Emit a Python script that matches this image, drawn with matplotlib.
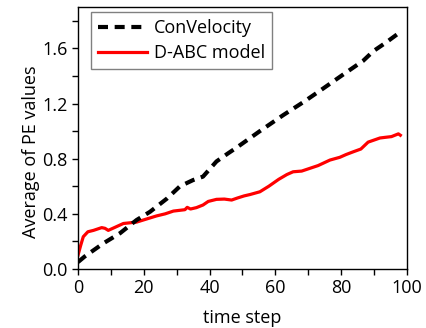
import matplotlib
matplotlib.use("Agg")
import matplotlib.pyplot as plt
from matplotlib.ticker import MultipleLocator

plt.rcParams["font.family"] = ["Open Sans", "DejaVu Sans"]

# ConVelocity (black dashed)
conv_x = [0, 2, 7.7, 12.8, 17.8, 21.9, 27, 31, 35, 38, 42.1, 45.7, 48.2,
          55.3, 62.4, 68.5, 74.6, 80.6, 86.7, 89.8, 93.5, 97.5]
conv_y = [0.05, 0.09, 0.186, 0.26, 0.355, 0.415, 0.51, 0.60, 0.645, 0.67,
          0.78, 0.84, 0.88, 1.0, 1.116, 1.21, 1.31, 1.41, 1.51, 1.58, 1.64, 1.71]

# D-ABC model (red solid)
dabc_x = [0, 0.8, 1.6, 3, 4.7, 7.2, 8.2, 9.2, 11.5, 13.8, 17.8, 20.5, 23.9,
          26.5, 29, 32.5, 33.2, 34.2, 36, 38, 39.6, 42.1, 44.5, 46.7, 48.5,
          50.5, 52.3, 55.3, 58, 61, 63.5, 65.4, 68, 70.5, 73, 76.6, 79.6,
          81.5, 83.7, 86, 88.2, 90, 91.8, 93.5, 95.3, 97.4, 98]
dabc_y = [0.10, 0.17, 0.234, 0.27, 0.28, 0.30, 0.295, 0.28, 0.305, 0.33,
          0.34, 0.36, 0.385, 0.40, 0.42, 0.43, 0.447, 0.435, 0.445, 0.464,
          0.49, 0.505, 0.507, 0.50, 0.515, 0.53, 0.54, 0.56, 0.60, 0.65,
          0.685, 0.705, 0.71, 0.73, 0.75, 0.79, 0.81, 0.83, 0.85, 0.87,
          0.92, 0.935, 0.95, 0.955, 0.96, 0.98, 0.97]

fig = plt.figure(figsize=(4.27, 3.28), dpi=100)
ax = fig.add_axes([0.1827, 0.1799, 0.7703, 0.7988])

ax.plot(conv_x, conv_y, color="black", lw=3, ls=(0, (2.4, 1.6)),
        label="ConVelocity", zorder=3)
ax.plot(dabc_x, dabc_y, color="red", lw=2.3, label="D-ABC model", zorder=2)

ax.set_xlim(0, 100)
ax.set_ylim(0, 1.9)
ax.xaxis.set_major_locator(MultipleLocator(20))
ax.xaxis.set_minor_locator(MultipleLocator(10))
ax.yaxis.set_major_locator(MultipleLocator(0.4))
ax.yaxis.set_minor_locator(MultipleLocator(0.2))
ax.yaxis.set_major_formatter(lambda v, p: f"{v:.1f}")
ax.tick_params(which="both", direction="out", length=4, width=1,
               labelsize=13, colors="black", top=False, right=False)
for s in ax.spines.values():
    s.set_linewidth(1)

ax.set_xlabel("time step", fontsize=13, labelpad=8)
ax.set_ylabel("Average of PE values", fontsize=13)
ax.yaxis.set_label_coords(-0.115, 0.447)

leg = ax.legend(loc="upper left", fontsize=13, fancybox=False,
                framealpha=1, edgecolor="#808080", handlelength=2.7,
                borderpad=0.4, labelspacing=0.4, handletextpad=0.4,
                borderaxespad=0, bbox_to_anchor=(0.0386, 0.982))
leg.get_frame().set_linewidth(1)

fig.savefig("out.png", dpi=100)
